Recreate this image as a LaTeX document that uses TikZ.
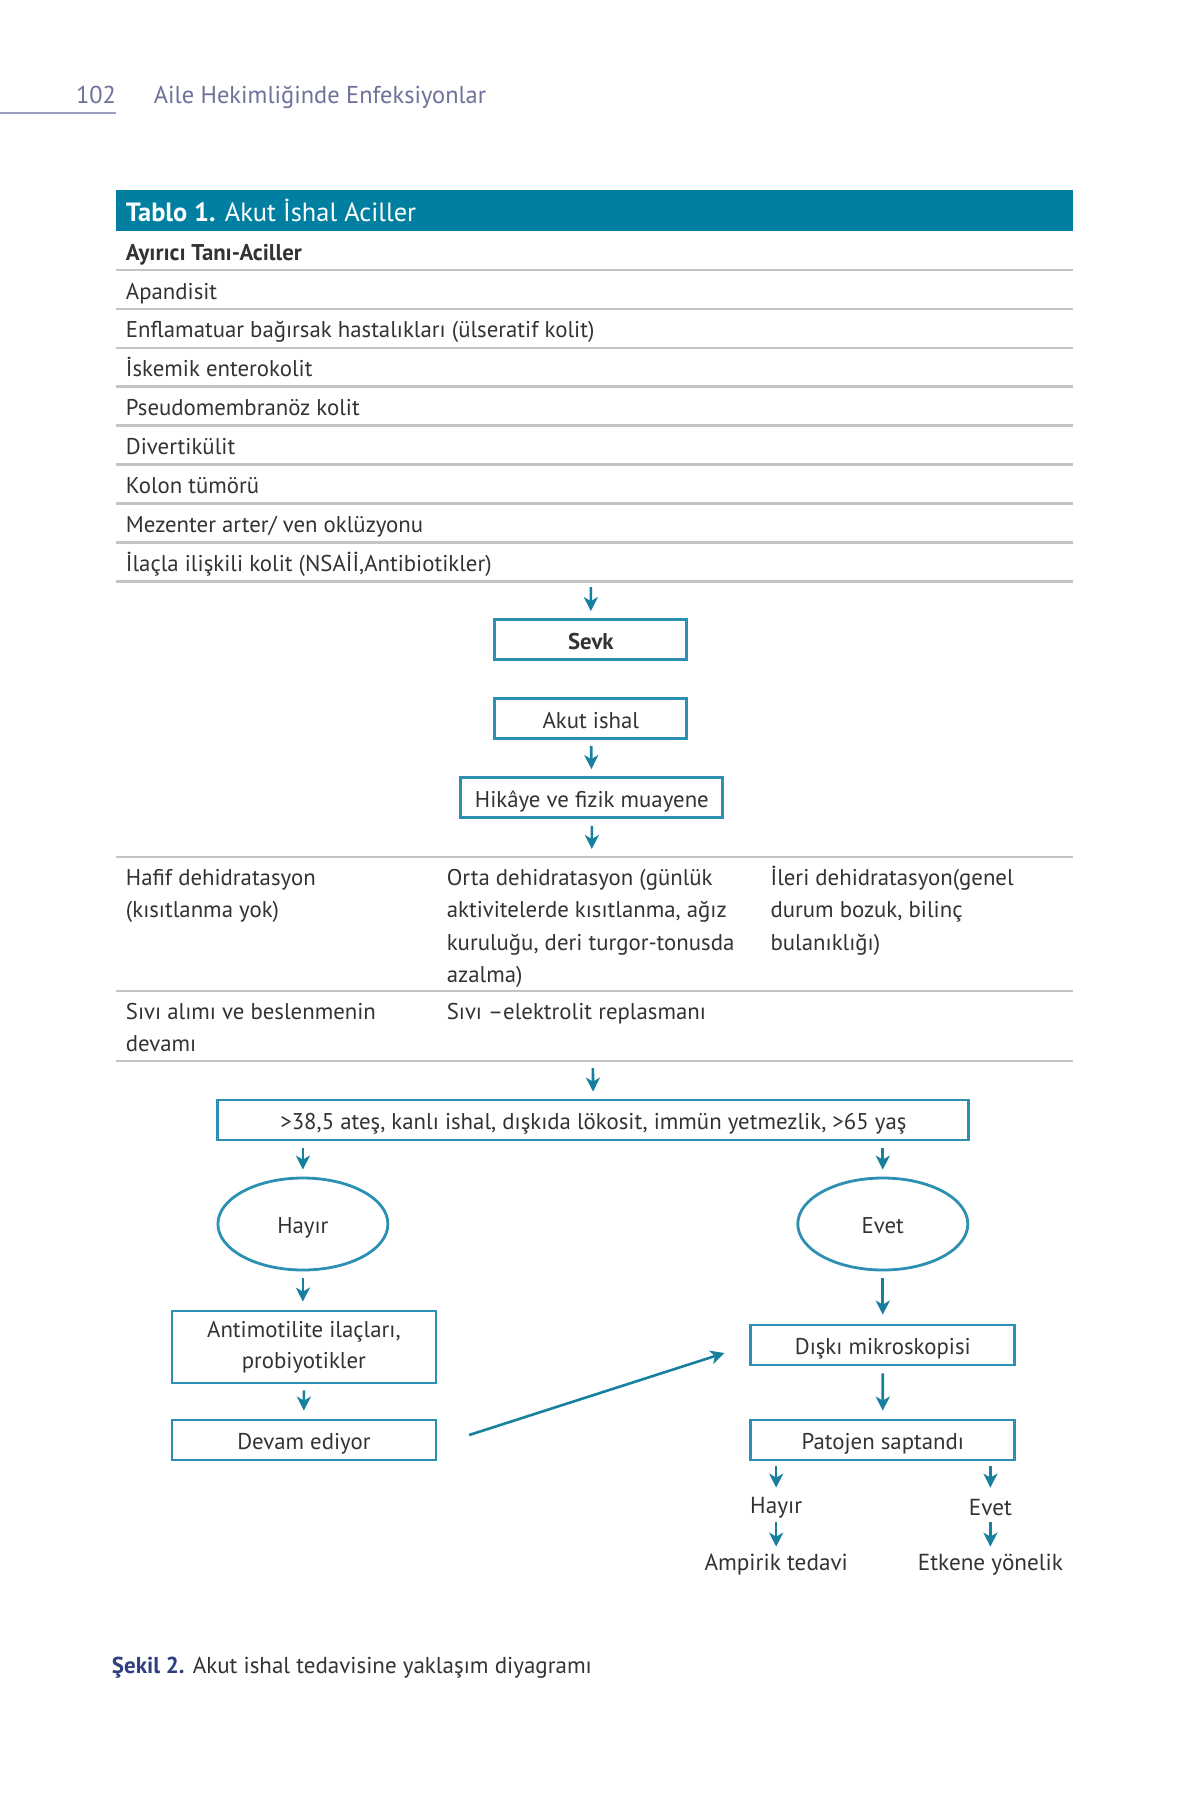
\documentclass[tikz,border=0pt]{standalone}
\usepackage{fontspec}
\setmainfont{PT Sans}
\usetikzlibrary{arrows.meta,shapes.geometric,calc}
\definecolor{tbar}{HTML}{007FA0}
\definecolor{tline}{HTML}{2B90B2}
\definecolor{tarrow}{HTML}{17809F}
\definecolor{txt}{HTML}{333333}
\definecolor{gline}{HTML}{C4C4C4}
\definecolor{hdr}{HTML}{6E7199}
\definecolor{hdrline}{HTML}{9A9CBF}
\definecolor{capblue}{HTML}{2E3F80}
\newcommand{\tabfont}{\fontsize{11.4}{16.2}\selectfont}
\newcommand{\flowfont}{\fontsize{11.4}{15.6}\selectfont}
\begin{document}
\begin{tikzpicture}[x=0.5pt,y=-0.5pt,
  every node/.style={inner sep=0pt, text=txt},
  tt/.style={anchor=base west, font=\tabfont},
  cell/.style={anchor=north west, font=\tabfont, align=left},
  gl/.style={draw=gline, line width=1.3pt},
  box/.style={draw=tline, line width=1.4pt, font=\flowfont, text height=11.5pt, text depth=2pt, minimum height=20pt},
  oval/.style={draw=tline, line width=1.4pt, ellipse, font=\flowfont, text height=11.5pt, text depth=2pt, minimum width=85pt, minimum height=46pt},
  lab/.style={font=\fontsize{11.6}{14}\selectfont, text height=7pt, text depth=2pt},
  arr/.style={draw=tarrow, line width=1.3pt, -{Stealth[length=7pt,width=7pt,inset=2pt]}}
]
\fill[white] (0,0) rectangle (1200,1800);
\useasboundingbox (0,0) rectangle (1200,1800);
\begin{scope}[xscale=0.9964]
% page header
\node[anchor=base west, text=hdr, font=\fontsize{12.2}{14}\selectfont] (pnum) at (76,103) {102};
\node[anchor=base west, text=hdr, font=\fontsize{12.2}{14}\selectfont] (ptitle) at (154,103) {Aile Hekimliğinde Enfeksiyonlar};
\draw[draw=hdrline, line width=1pt] (0,113) -- (116,113);

% table 1
\fill[tbar] (116,190) rectangle (1077,231);
\node[anchor=base west, text=white, font=\fontsize{13.2}{15}\selectfont] (ttitle) at (126,221) {\textbf{Tablo 1.} Akut İshal Aciller};
\foreach \y in {270,308.9,347.8,386.7,425.6,464.5,503.4,542.3,581.2} {\draw[gl] (116,\y) -- (1077,\y);}
\node[tt] (r0) at (126,260) {\textbf{Ayırıcı Tanı-Aciller}};
\node[tt] (r1) at (126,299) {Apandisit};
\node[tt] (r2) at (126,337.9) {Enflamatuar bağırsak hastalıkları (ülseratif kolit)};
\node[tt] (r3) at (126,376.8) {İskemik enterokolit};
\node[tt] (r4) at (126,415.7) {Pseudomembranöz kolit};
\node[tt] (r5) at (126,454.6) {Divertikülit};
\node[tt] (r6) at (126,493.5) {Kolon tümörü};
\node[tt] (r7) at (126,532.4) {Mezenter arter/ ven oklüzyonu};
\node[tt] (r8) at (126,571.3) {İlaçla ilişkili kolit (NSAİİ,Antibiotikler)};
\coordinate (t1bot) at (593,581.2);

% upper flow
\node[box, minimum width=96pt] (sevk) at (593,639.5) {\textbf{Sevk}};
\node[box, minimum width=96pt] (akut) at (593,718.5) {Akut ishal};
\node[box, minimum width=131pt] (hik) at (594,797.5) {Hikâye ve fizik muayene};
\draw[arr, shorten <=3pt, shorten >=3.5pt] (t1bot) -- (sevk);
\draw[arr, shorten <=3pt, shorten >=3.5pt] (akut) -- (hik);
\coordinate (t2top) at (594,857);
\draw[arr, shorten <=3.5pt, shorten >=4pt] (hik) -- (t2top);

% dehydration table
\draw[gl] (116,857) -- (1077,857);
\draw[gl] (116,991) -- (1077,991);
\draw[gl] (116,1061) -- (1077,1061);
\node[cell] (c11) at (126,864) {\rule{0pt}{10.5pt}Hafif dehidratasyon\\(kısıtlanma yok)};
\node[cell] (c12) at (448,864) {\rule{0pt}{10.5pt}Orta dehidratasyon (günlük\\aktivitelerde kısıtlanma, ağız\\kuruluğu, deri turgor-tonusda\\azalma)};
\node[cell] (c13) at (773,864) {\rule{0pt}{10.5pt}İleri dehidratasyon(genel\\durum bozuk, bilinç\\bulanıklığı)};
\node[cell] (c21) at (126,998) {\rule{0pt}{10.5pt}Sıvı alımı ve beslenmenin\\devamı};
\node[cell] (c22) at (448,998) {\rule{0pt}{10.5pt}Sıvı –elektrolit replasmanı};
\coordinate (t2bot) at (595,1061);

% lower flow
\node[box, minimum width=375.5pt] (big) at (595.5,1120) {>38,5 ateş, kanlı ishal, dışkıda lökosit, immün yetmezlik, >65 yaş};
\draw[arr, shorten <=3.5pt, shorten >=3.5pt] (t2bot) -- (big);
\node[oval] (hayir) at (304,1224) {Hayır};
\node[oval] (evet) at (886,1224) {Evet};
\draw[arr, shorten <=3.5pt, shorten >=3.5pt] (big.south -| hayir) -- (hayir.north);
\draw[arr, shorten <=3.5pt, shorten >=3.5pt] (big.south -| evet) -- (evet.north);

\node[box, minimum width=132pt, minimum height=36pt, align=center, text height=, text depth=] (anti) at (305,1347) {Antimotilite ilaçları,\\probiyotikler};
\node[box, minimum width=132pt] (devam) at (305,1440) {Devam ediyor};
\node[box, minimum width=132pt] (diski) at (886,1345) {Dışkı mikroskopisi};
\node[box, minimum width=132pt] (pat) at (886,1440) {Patojen saptandı};

\draw[arr, shorten <=3.5pt, shorten >=4pt] (hayir.south) -- (anti.north -| hayir);
\draw[arr, shorten <=3.5pt, shorten >=4.5pt] (evet.south) -- (diski.north);
\draw[arr, shorten <=3pt, shorten >=4pt] (anti) -- (devam);
\draw[arr, shorten <=3.5pt, shorten >=4pt] (diski) -- (pat);

\coordinate (dg1) at ($(devam.east)+(32,-5)$);
\coordinate (dg2) at ($(diski.west)+(-25,8)$);
\draw[arr] (dg1) -- (dg2);

\node[lab] (h2) at (779,1508) {Hayır};
\node[lab] (e2) at (994,1510) {Evet};
\node[lab] (amp) at (779,1565) {Ampirik tedavi};
\node[lab] (etk) at (994,1565) {Etkene yönelik};
\draw[arr, shorten <=2.5pt, shorten >=5.5pt] (pat.south -| h2) -- (h2.north);
\draw[arr, shorten <=2.5pt, shorten >=6.5pt] (pat.south -| e2) -- (e2.north);
\draw[arr, shorten <=2.5pt, shorten >=4.5pt] (h2.south) -- (amp.north);
\draw[arr, shorten <=1.5pt, shorten >=4.5pt] (e2.south) -- (etk.north);

% caption
\node[anchor=base west, font=\fontsize{11.5}{13}\selectfont] (cap) at (112,1673) {\textcolor{capblue}{\textbf{Şekil 2.}} Akut ishal tedavisine yaklaşım diyagramı};
\end{scope}
\end{tikzpicture}
\end{document}
